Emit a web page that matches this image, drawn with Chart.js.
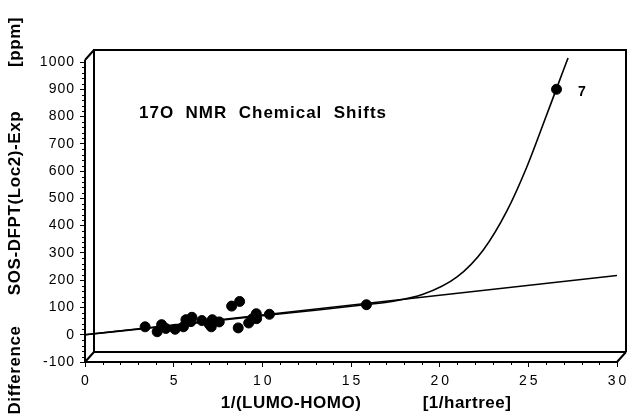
<!DOCTYPE html>
<html>
<head>
<meta charset="utf-8">
<script src="https://cdn.jsdelivr.net/npm/chart.js@4"></script>
<style>
  html, body { margin: 0; padding: 0; background: #fff; }
  canvas { display: block; }
</style>
</head>
<body>
<canvas id="myChart" width="628" height="414"></canvas>
<script>
// measured points (x = 1/(LUMO-HOMO), y = difference in ppm)
const pointX = [3.39, 4.07, 4.32, 4.56, 5.08, 5.55, 5.69, 6.03, 5.97, 6.59, 7.01, 7.12, 7.18, 7.57,
                8.27, 8.72, 8.64, 9.23, 9.45, 9.66, 9.68, 10.40, 15.87, 26.59];
const pointY = [29, 11, 37, 23, 20, 29, 55, 64, 48, 52, 38, 29, 55, 47,
                105, 122, 25, 43, 59, 77, 59, 75, 110, 900];

// straight fit line
const lineX = [0, 30];
const lineY = [0, 217];

// curved fit
const curveX = [0, 5, 10, 13, 15.9, 17.2, 19.06, 20.98, 22.45, 23.8, 24.92, 25.93, 26.61, 27.24];
const curveY = [0, 34, 70, 90, 111, 121, 148, 212, 310, 455, 616, 788, 906, 1015];

const yMajor = [-100, 0, 100, 200, 300, 400, 500, 600, 700, 800, 900, 1000];
const xMajor = [0, 5, 10, 15, 20, 25, 30];

const labelFont = "'Liberation Sans', Arial, Helvetica, sans-serif";

function pairs(xs, ys) {
  return xs.map((x, i) => ({ x: x, y: ys[i] }));
}

// 3D-style frame, minor ticks and the loose texts
const framePlugin = {
  id: 'frame',
  beforeDraw(chart) {
    chart.ctx.letterSpacing = '1px';
  },
  afterDraw(chart) {
    const ctx = chart.ctx;
    const a = chart.chartArea;
    const xs = chart.scales.x, ys = chart.scales.y;
    const dx = 9, dy = 10;
    ctx.save();
    ctx.strokeStyle = '#000';
    ctx.lineWidth = 2;
    ctx.beginPath();
    // front axes
    ctx.moveTo(a.left, a.top - 2); ctx.lineTo(a.left, a.bottom); ctx.lineTo(a.right, a.bottom);
    // back wall
    ctx.moveTo(a.left + dx, a.bottom - dy); ctx.lineTo(a.right + dx, a.bottom - dy);
    ctx.moveTo(a.left + dx, a.bottom - dy); ctx.lineTo(a.left + dx, a.top - 12);
    ctx.lineTo(a.right + dx, a.top - 12); ctx.lineTo(a.right + dx, a.bottom - dy);
    // diagonals
    ctx.moveTo(a.left, a.bottom); ctx.lineTo(a.left + dx, a.bottom - dy);
    ctx.moveTo(a.right, a.bottom); ctx.lineTo(a.right + dx, a.bottom - dy);
    ctx.moveTo(a.left, a.top - 2); ctx.lineTo(a.left + dx, a.top - 12);
    ctx.stroke();

    // minor ticks
    ctx.lineWidth = 1;
    ctx.beginPath();
    for (let v = -100; v <= 1000; v += 20) {
      if (v % 100 === 0) continue;
      const py = Math.round(ys.getPixelForValue(v)) + 0.5;
      ctx.moveTo(a.left - 3, py); ctx.lineTo(a.left, py);
    }
    for (let v = 0; v <= 30; v += 1) {
      if (v % 5 === 0) continue;
      const px = Math.round(xs.getPixelForValue(v)) + 0.5;
      ctx.moveTo(px, a.bottom); ctx.lineTo(px, a.bottom + 3);
    }
    ctx.stroke();

    ctx.fillStyle = '#000';
    ctx.textBaseline = 'middle';

    // x tick labels, widely spaced digits
    ctx.textAlign = 'center';
    ctx.font = '14px ' + labelFont;
    ctx.letterSpacing = '3px';
    xMajor.forEach(v => {
      ctx.fillText(String(v), xs.getPixelForValue(v) + 1.5, a.bottom + 19);
    });

    ctx.textAlign = 'left';
    ctx.letterSpacing = '1px';
    ctx.font = 'bold 17px ' + labelFont;
    ctx.fillText('17O  NMR  Chemical  Shifts', 139, 113);
    ctx.font = 'bold 14px ' + labelFont;
    ctx.fillText('7', 578, 92);

    // axis titles
    ctx.textAlign = 'center';
    ctx.letterSpacing = '0.5px';
    ctx.font = 'bold 17px ' + labelFont;
    ctx.fillText('1/(LUMO-HOMO)', 291, 403);
    ctx.fillText('[1/hartree]', 467, 403);
    ctx.save();
    ctx.letterSpacing = '0.6px';
    ctx.font = 'bold 17px ' + labelFont;
    ctx.translate(15, 0);
    ctx.rotate(-Math.PI / 2);
    ctx.fillText('Difference', -370, 0);
    ctx.fillText('SOS-DFPT(Loc2)-Exp', -203, 0);
    ctx.fillText('[ppm]', -42, 0);
    ctx.restore();
    ctx.restore();
  }
};

const ctx = document.getElementById('myChart').getContext('2d');

new Chart(ctx, {
  data: {
    datasets: [{
      type: 'scatter',
      data: pairs(pointX, pointY),
      backgroundColor: '#000',
      borderColor: '#000',
      pointRadius: 5,
      pointHoverRadius: 5
    }, {
      type: 'line',
      data: pairs(lineX, lineY),
      borderColor: '#000',
      borderWidth: 1.6,
      pointRadius: 0,
      fill: false
    }, {
      type: 'line',
      data: pairs(curveX, curveY),
      borderColor: '#000',
      borderWidth: 1.6,
      pointRadius: 0,
      cubicInterpolationMode: 'monotone',
      fill: false,
      clip: false
    }]
  },
  options: {
    responsive: false,
    animation: false,
    devicePixelRatio: 1,
    layout: { padding: { top: 62, right: 11, left: 0, bottom: 0 } },
    plugins: { legend: { display: false }, tooltip: { enabled: false } },
    scales: {
      x: {
        type: 'linear',
        min: 0,
        max: 30,
        afterFit: s => { s.height = 52; },
        afterBuildTicks: s => { s.ticks = xMajor.map(v => ({ value: v })); },
        ticks: { display: false },
        grid: { drawOnChartArea: false, color: '#000', tickLength: 5, tickWidth: 1 },
        border: { display: false }
      },
      y: {
        type: 'linear',
        min: -100,
        max: 1000,
        afterFit: s => { s.width = 85; },
        afterBuildTicks: s => { s.ticks = yMajor.map(v => ({ value: v })); },
        ticks: { color: '#000', font: { family: labelFont, size: 14 }, padding: 5, callback: v => String(v) },
        grid: { drawOnChartArea: false, color: '#000', tickLength: 5, tickWidth: 1 },
        border: { display: false }
      }
    }
  },
  plugins: [framePlugin]
});
</script>
</body>
</html>
